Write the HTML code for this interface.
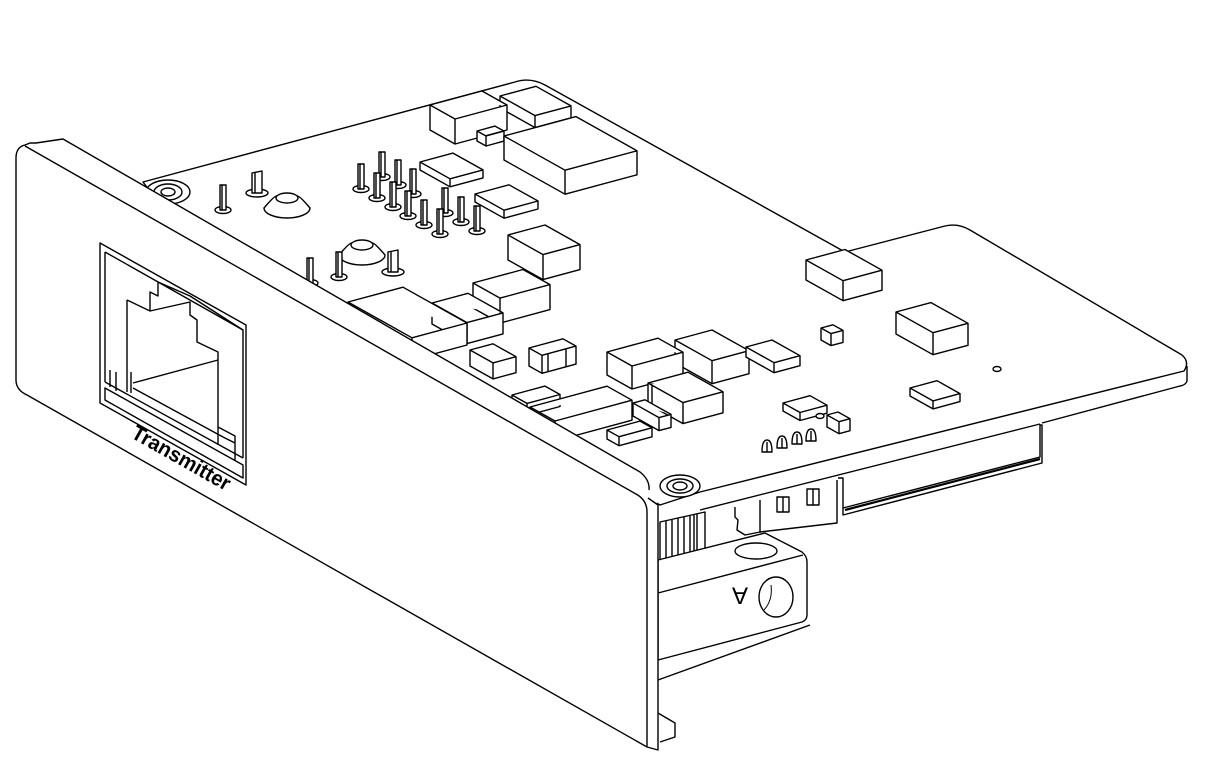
<!DOCTYPE html>
<html><head><meta charset="utf-8"><style>
html,body{margin:0;padding:0;background:#fff;}
svg{display:block}
</style></head><body>
<svg width="1212" height="768" viewBox="0 0 1212 768" xmlns="http://www.w3.org/2000/svg" fill="#fff" stroke="#000" stroke-width="1.4" stroke-linejoin="round">
<defs>
<g id="pin"><ellipse cx="0" cy="0" rx="8" ry="3.5"/><rect x="-3" y="-25" width="6" height="25"/><line x1="-1" y1="-25" x2="-1" y2="0"/></g>
<g id="fpin"><ellipse cx="0" cy="0" rx="11" ry="4"/><path d="M-5,-20 L5,-22 L5,0 L-5,0 Z"/><line x1="-2" y1="-20" x2="-2" y2="0"/></g>
<g id="dome"><path d="M-23,0 Q-12,-13 -10,-12 L10,-12 Q12,-13 23,0 A23,10 0 0 1 -23,0 Z"/><ellipse cx="0" cy="-10" rx="11" ry="5"/></g>
<g id="cone"><path d="M-5,0 Q-5,-12 0,-12 Q5,-12 5,0 Z"/><line x1="0" y1="-10" x2="0" y2="0"/></g>
</defs>
<!-- lower parts under the board -->
<g>
 <path d="M838,478 L843,478 L843,515 L1042,463 L1042,425 L1040,425 L1040,457 L843,508" fill="#fff"/>
 <path d="M845,510 L1040,459" fill="none" stroke-width="2.2"/>
 <path d="M760,500 L760,532 L837,523 L837,480" fill="#fff"/>
 <rect x="777" y="497" width="12" height="15" fill="#fff"/><line x1="783" y1="497" x2="783" y2="512"/>
 <rect x="807" y="489" width="12" height="16" fill="#fff"/><line x1="813" y1="489" x2="813" y2="505"/>
 <path d="M735,507 L735,517 L738,520 L737,530 L745,535 L760,532" fill="none"/>
 <path d="M660,522 L705,512 L705,555 L660,565 Z" fill="#fff"/>
 <g fill="none"><line x1="666" y1="521" x2="666" y2="565"/><line x1="672" y1="520" x2="672" y2="563"/><line x1="678" y1="518" x2="678" y2="562"/><line x1="684" y1="517" x2="684" y2="560"/><line x1="690" y1="516" x2="690" y2="559"/><line x1="694" y1="515" x2="694" y2="558"/><line x1="697" y1="514" x2="697" y2="557"/></g>
 <path d="M658,560 L765,533 L802,552 Q807,556 807,562 L807,615 Q807,620 802,622 L658,660 Z" fill="#fff"/>
 <path d="M658,593 L803,555" fill="none"/>
 <ellipse cx="756" cy="551" rx="21" ry="8" fill="#fff"/>
 <ellipse cx="776" cy="597" rx="17" ry="20" fill="#fff"/>
 <path d="M771,585 Q773,600 764,610" fill="none" stroke-width="1"/>
 <text x="740" y="594" transform="rotate(180 740 594)" font-family="Liberation Sans, sans-serif" font-size="24" fill="#000" stroke="none" text-anchor="middle" dominant-baseline="middle">A</text>
 <path d="M658,680 L810,625" fill="none"/>
 <path d="M658,713 L675,723 L675,737 L660,742" fill="#fff"/>
</g>
<!-- board -->
<path d="M143,182 L515,82 Q530,77 545,85 L845,252 L945,226 Q958,223 970,230 L1182,355 Q1190,362 1184,371 L700,492 L660,505 L180,230 Z" fill="#fff"/>
<path d="M1187,366 L1187,381 Q1186,385 1180,386 L1042,423 M1040,424 L700,510" fill="none"/>
<!-- components -->
<g>
<path d="M500,96 L536,86.3 L571,105.9 L571,117.9 L535,127.6 L500,108 Z M500,96 L535,115.6 L571,105.9 M535,115.6 L535,127.6"/>
<path d="M430,105 L482,91 L507,105 L507,130 L455,144 L430,130 Z M430,105 L455,119 L507,105 M455,119 L455,144"/>
<path d="M477,131 L495,126.1 L504,131.1 L504,141.1 L486,146 L477,141 Z M477,131 L486,136 L504,131.1 M486,136 L486,146"/>
<path d="M504,136 L576,116.6 L637,150.8 L637,174.8 L565,194.2 L504,160 Z M504,136 L565,170.2 L637,150.8 M565,170.2 L565,194.2"/>
<path d="M420,162 L453,153.1 L483,169.9 L483,177.9 L450,186.8 L420,170 Z M420,162 L450,178.8 L483,169.9 M450,178.8 L450,186.8"/>
<path d="M475,194 L509,184.8 L538,201 L538,209 L504,218.2 L475,202 Z M475,194 L504,210.2 L538,201 M504,210.2 L504,218.2"/>
<use href="#pin" x="382" y="177"/><use href="#pin" x="361" y="189"/><use href="#pin" x="398" y="185"/><use href="#pin" x="377" y="198"/>
<use href="#pin" x="413" y="194"/><use href="#pin" x="393" y="207"/><use href="#pin" x="445" y="213"/><use href="#pin" x="408" y="216"/>
<use href="#pin" x="461" y="222"/><use href="#pin" x="424" y="225"/><use href="#pin" x="477" y="231"/><use href="#pin" x="440" y="234"/>
<use href="#pin" x="223" y="210"/><use href="#fpin" x="257" y="193"/>
<use href="#dome" x="287" y="208"/><use href="#dome" x="362" y="255"/>
<use href="#pin" x="310" y="283"/><use href="#pin" x="339" y="277"/><use href="#fpin" x="393" y="272"/>
<path d="M806,260 L845,249.5 L882,270.2 L882,290.2 L843,300.7 L806,280 Z M806,260 L843,280.7 L882,270.2 M843,280.7 L843,300.7"/>
<path d="M896,312 L931,302.6 L968,323.3 L968,345.3 L933,354.7 L896,334 Z M896,312 L933,332.7 L968,323.3 M933,332.7 L933,354.7"/>
<path d="M821,328 L833,324.8 L843,330.4 L843,342.4 L831,345.6 L821,340 Z M821,328 L831,333.6 L843,330.4 M831,333.6 L831,345.6"/>
<path d="M508,235 L545,225 L580,244.6 L580,269.6 L543,279.6 L508,260 Z M508,235 L543,254.6 L580,244.6 M543,254.6 L543,279.6"/>
<path d="M473,283 L523,269.5 L550,284.6 L550,309.6 L500,323.1 L473,308 Z M473,283 L500,298.1 L550,284.6 M500,298.1 L500,323.1"/>
<path d="M432,303 L468,293.3 L503,312.9 L503,333.9 L467,343.6 L432,324 Z M432,303 L467,322.6 L503,312.9 M467,322.6 L467,343.6"/>
<path d="M348,302 L403,287.2 L467,323 L467,345 L412,359.8 L348,324 Z M348,302 L412,337.8 L467,323 M412,337.8 L412,359.8"/>
<path d="M470,350 L493,343.8 L516,356.7 L516,372.7 L493,378.9 L470,366 Z M470,350 L493,362.9 L516,356.7 M493,362.9 L493,378.9"/>
<path d="M529,348 L563,338.8 L576,346.1 L576,364.1 L542,373.3 L529,366 Z M529,348 L542,355.3 L576,346.1 M542,355.3 L542,373.3 M548,354 L548,372 M566,349 L566,367"/>
<path d="M675,340 L712,330 L749,350.7 L749,373.7 L712,383.7 L675,363 Z M675,340 L712,360.7 L749,350.7 M712,360.7 L712,383.7"/>
<path d="M746,347 L772,340 L800,355.7 L800,365.7 L774,372.7 L746,357 Z M746,347 L774,362.7 L800,355.7 M774,362.7 L774,372.7"/>
<path d="M607,352 L658,338.2 L683,352.2 L683,375.2 L632,389 L607,375 Z M607,352 L632,366 L683,352.2 M632,366 L632,389"/>
<path d="M512,395 L545,386.1 L560,394.5 L560,406.5 L527,415.4 L512,407 Z M512,395 L527,403.4 L560,394.5 M527,403.4 L527,415.4"/>
<path d="M530,407 L607,386.2 L632,400.2 L632,420.2 L555,441 L530,427 Z M530,407 L555,421 L632,400.2 M555,421 L555,441"/>
<path d="M648,383 L688,372.2 L723,391.8 L723,412.8 L683,423.6 L648,404 Z M648,383 L683,402.6 L723,391.8 M683,402.6 L683,423.6 M652,385 L652,405"/>
<path d="M633,403 L645,399.8 L671,414.4 L671,427.4 L659,430.6 L633,416 Z M633,403 L659,417.6 L671,414.4 M659,417.6 L659,430.6"/>
<path d="M607,430 L640,421.1 L652,427.8 L652,436.8 L619,445.7 L607,439 Z M607,430 L619,436.7 L652,427.8 M619,436.7 L619,445.7"/>
<path d="M910,388 L937,380.7 L960,393.6 L960,401.6 L933,408.9 L910,396 Z M910,388 L933,400.9 L960,393.6 M933,400.9 L933,408.9"/>
<path d="M783,403 L810,395.7 L827,405.2 L827,413.2 L800,420.5 L783,411 Z M783,403 L800,412.5 L827,405.2 M800,412.5 L800,420.5"/>
<path d="M827,415 L838,412 L850,418.7 L850,430.7 L839,433.7 L827,427 Z M827,415 L839,421.7 L850,418.7 M839,421.7 L839,433.7"/>
<ellipse cx="997" cy="369" rx="4" ry="2.5"/><ellipse cx="820" cy="416" rx="4" ry="2.5"/>
<use href="#cone" x="767" y="452"/><use href="#cone" x="782" y="448"/><use href="#cone" x="797" y="444"/><use href="#cone" x="811" y="441"/>
</g>
<!-- standoffs -->
<g fill="#fff">
 <ellipse cx="168" cy="192" rx="22" ry="12"/><ellipse cx="168" cy="192" rx="14" ry="8"/><ellipse cx="168" cy="192" rx="7" ry="4"/>
 <ellipse cx="680" cy="486" rx="20" ry="11"/><ellipse cx="680" cy="486" rx="13" ry="7"/><ellipse cx="680" cy="486" rx="7" ry="4"/>
</g>
<!-- front panel -->
<path d="M23,146 Q30,140 35,143 L33,143 L63,139 L640,472 Q650,478 650,490 L658,505 L658,750 L647,747 L27,395 Q17,390 16,380 L16,158 Q16,148 23,146 Z" fill="#fff" stroke="none"/>
<path d="M16,158 Q16,147 25,145 L30,143 L36,143 L63,139 L640,472 Q650,480 649,490" fill="none"/>
<path d="M25,146 L636,494 Q647,500 647,512 L647,747 L27,395 Q16,390 16,380 L16,158" fill="none"/>
<path d="M648,498 L658,505 L658,750 L647,747" fill="none"/>
<!-- RJ45 -->
<g fill="none">
 <path d="M100,243 L246,325 L246,485 L100,403 Z"/>
 <path d="M105,252 L243,330 L243,458 M105,252 L105,382"/>
 <path d="M105,382 L243,458 M105,388 L243,465 L243,478 L105,400 Z"/>
 <path d="M110,370 L110,387 M116,372 L116,391 M127,300 L127,392 M131,372 L131,393"/>
 <path d="M127,300 L150,311 L150,292 L158,296 L158,282 M150,311 L190,302 L190,315 L197,320 L197,342 L218,352 L218,427 L235,436 L235,460 M218,427 L218,445"/>
 <path d="M133,383 L218,360 M133,388 L223,437 L235,443"/>
 <path d="M158,282 L190,296 L243,330"/>
</g>
<text x="0" y="0" transform="translate(130,437) rotate(29.5)" font-family="Liberation Sans, sans-serif" font-weight="bold" font-size="21" fill="#000" stroke="none" textLength="110" lengthAdjust="spacingAndGlyphs">Transmitter</text>
</svg>
</body></html>
